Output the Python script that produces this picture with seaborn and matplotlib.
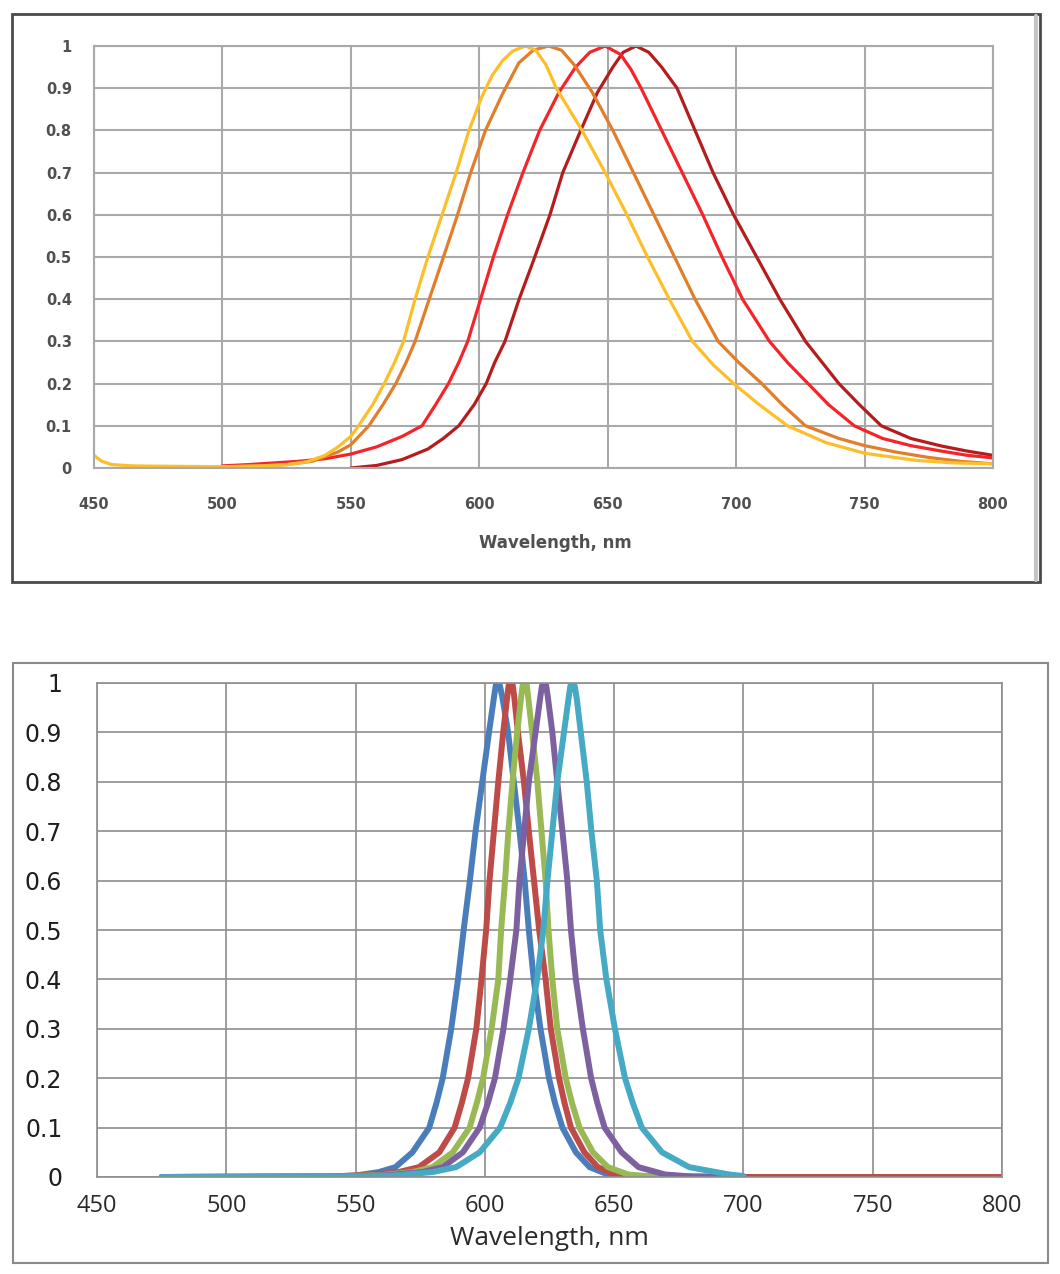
import numpy as np
import pandas as pd
import matplotlib
matplotlib.use("Agg")
import matplotlib.pyplot as plt
from matplotlib.patches import Rectangle
from matplotlib.lines import Line2D
import seaborn as sns


# 1 Data

# top chart: four broad measured spectra
yellow_nm = [450, 453, 457, 465, 480, 500, 515, 525, 533, 540, 545, 550, 553, 558.5, 563,
             567, 570.5, 575, 580, 585.5, 591, 596, 601, 605, 609, 613, 618, 622, 626,
             630, 640, 649, 657.5, 665.5, 674, 683, 691, 700, 709, 720, 735,
             750, 770, 785, 800]
yellow_val = [0.030, 0.016, 0.008, 0.005, 0.004, 0.003, 0.005, 0.008, 0.015, 0.030, 0.050,
              0.075, 0.100, 0.150, 0.200, 0.250, 0.300, 0.400, 0.500, 0.600, 0.700, 0.800,
              0.880, 0.930, 0.965, 0.988, 1.000, 0.990, 0.955, 0.900, 0.800, 0.700,
              0.600, 0.500, 0.400, 0.300, 0.245, 0.195, 0.150, 0.100, 0.060, 0.035, 0.018,
              0.012, 0.010]

orange_nm = [500, 515, 525, 535, 545, 550, 557, 562.5, 567.5, 571.5, 575, 580.5, 585.5, 591,
             596.5, 602.4, 609, 615.4, 621, 627, 632, 637, 644, 652, 660, 668, 676, 684,
             693, 701, 710, 718, 727, 740, 750, 762, 775, 787, 800]
orange_val = [0.003, 0.005, 0.008, 0.016, 0.038, 0.055, 0.100, 0.150, 0.200, 0.250, 0.300,
              0.400, 0.490, 0.590, 0.697, 0.800, 0.886, 0.960, 0.990, 1.000, 0.990, 0.955,
              0.890, 0.800, 0.700, 0.600, 0.500, 0.400, 0.300, 0.250, 0.200, 0.150, 0.100,
              0.070, 0.053, 0.038, 0.025, 0.016, 0.010]

red_nm = [500, 510, 520, 530, 540, 550, 560, 570, 577.7, 583, 588, 592, 595.5, 600.5, 605.5,
          611, 617, 623.5, 631, 637.5, 643, 649, 655, 659, 663, 671, 679, 687, 694.5, 702.5,
          713, 720, 728, 736, 746, 757, 768, 780, 790, 800]
red_val = [0.005, 0.008, 0.012, 0.016, 0.022, 0.033, 0.050, 0.075, 0.100, 0.150, 0.200, 0.250,
           0.300, 0.400, 0.500, 0.600, 0.700, 0.800, 0.890, 0.950, 0.985, 1.000, 0.980, 0.945,
           0.900, 0.800, 0.700, 0.600, 0.500, 0.400, 0.300, 0.250, 0.200, 0.150, 0.100, 0.070,
           0.053, 0.040, 0.030, 0.024]

darkred_nm = [550, 560, 570, 580, 586, 592, 598, 602.7, 606, 610, 615.5, 621, 627.5, 632.5,
              639.5, 646, 652, 656, 661, 666, 671, 677, 684, 691, 699, 708, 717, 727, 740,
              748, 756.5, 768, 780, 790, 800]
darkred_val = [0.000, 0.006, 0.020, 0.045, 0.070, 0.100, 0.150, 0.200, 0.250, 0.300, 0.400,
               0.490, 0.600, 0.700, 0.800, 0.890, 0.950, 0.985, 1.000, 0.985, 0.950, 0.900,
               0.800, 0.700, 0.600, 0.500, 0.400, 0.300, 0.200, 0.150, 0.100, 0.070, 0.052,
               0.040, 0.030]

# bottom chart: five narrow modelled peaks
blue_nm = [475, 540, 550, 559, 565.4, 572, 578.5, 581.3, 583.7, 587, 589.6, 591.8, 594.2,
           596.4, 599, 601.6, 603.5, 604.2, 605, 605.8, 606.8, 609, 611.2, 613.4, 615.4, 617,
           618.9, 621.5, 624.8, 627.1, 630, 635.2, 640.5, 647.6, 655, 700]
blue_val = [0, 0.001, 0.003, 0.01, 0.02, 0.05, 0.1, 0.15, 0.2, 0.3, 0.4, 0.5, 0.6, 0.7, 0.8,
            0.9, 0.97, 0.995, 1.0, 0.995, 0.97, 0.9, 0.8, 0.7, 0.6, 0.5, 0.4, 0.3, 0.2, 0.15,
            0.1, 0.05, 0.02, 0.005, 0.001, 0]

red2_nm = [475, 540, 555, 566.7, 574.5, 582.4, 588.3, 591.1, 593.5, 596.7, 598.7, 600.5, 601.8,
           603.5, 605.2, 607.1, 608.6, 609.2, 610, 610.8, 611.4, 612.8, 615.1, 617, 619, 621,
           623.5, 625.5, 628.7, 630.8, 633.3, 638.5, 643.7, 650.3, 660, 700, 800]
red2_val = [0, 0.001, 0.004, 0.01, 0.02, 0.05, 0.1, 0.15, 0.2, 0.3, 0.4, 0.5, 0.6, 0.7, 0.8,
            0.9, 0.97, 0.995, 1.0, 0.995, 0.97, 0.9, 0.8, 0.7, 0.6, 0.5, 0.4, 0.3, 0.2, 0.15,
            0.1, 0.05, 0.02, 0.005, 0.001, 0, 0]

green_nm = [475, 545, 560, 572, 579.8, 587.6, 594.1, 596.9, 599.3, 602.6, 605.2, 606.3, 607.8,
            609.1, 610.7, 612.5, 614, 614.6, 615.4, 616.2, 616.8, 618.3, 620.3, 621.9, 623.5,
            624.6, 626.1, 628, 631.3, 633.7, 636.6, 641.8, 647.6, 655.5, 665, 700]
green_val = [0, 0.001, 0.004, 0.01, 0.02, 0.05, 0.1, 0.15, 0.2, 0.3, 0.4, 0.5, 0.6, 0.7, 0.8,
             0.9, 0.97, 0.995, 1.0, 0.995, 0.97, 0.9, 0.8, 0.7, 0.6, 0.5, 0.4, 0.3, 0.2, 0.15,
             0.1, 0.05, 0.02, 0.005, 0.001, 0]

purple_nm = [475, 550, 563, 575.8, 583.7, 591.5, 598, 601.2, 603.9, 607.2, 609.8, 612.2, 613.4,
             615.2, 617, 619.6, 621.4, 622.1, 622.9, 623.7, 624.4, 626.1, 628, 630, 631.9,
             633.3, 635.2, 637.9, 641.1, 643.5, 646.3, 652.9, 659.4, 669.8, 680, 700]
purple_val = [0, 0.001, 0.004, 0.01, 0.02, 0.05, 0.1, 0.15, 0.2, 0.3, 0.4, 0.5, 0.6, 0.7, 0.8,
              0.9, 0.97, 0.995, 1.0, 0.995, 0.97, 0.9, 0.8, 0.7, 0.6, 0.5, 0.4, 0.3, 0.2, 0.15,
              0.1, 0.05, 0.02, 0.005, 0.001, 0]

cyan_nm = [475, 550, 565, 579.8, 588.9, 598, 605.9, 609.8, 613, 617, 620.2, 622.6, 624.2,
           626.1, 628, 630.6, 632.4, 633.1, 633.9, 634.7, 635.5, 637.1, 639.4, 641.2, 643.3,
           644.6, 647, 650.3, 654.2, 657.2, 660.7, 668.5, 679, 694.6, 700]
cyan_val = [0, 0.001, 0.003, 0.01, 0.02, 0.05, 0.1, 0.15, 0.2, 0.3, 0.4, 0.5, 0.6, 0.7, 0.8,
            0.9, 0.97, 0.995, 1.0, 0.995, 0.97, 0.9, 0.8, 0.7, 0.6, 0.5, 0.4, 0.3, 0.2, 0.15,
            0.1, 0.05, 0.02, 0.005, 0.002]

x_ticks = [450, 500, 550, 600, 650, 700, 750, 800]
y_ticks = [0, 0.1, 0.2, 0.3, 0.4, 0.5, 0.6, 0.7, 0.8, 0.9, 1]
y_tick_labels = ["0", "0.1", "0.2", "0.3", "0.4", "0.5", "0.6", "0.7", "0.8", "0.9", "1"]
x_label = "Wavelength, nm"


# 2 Build tables for seaborn

def long_table(series):
    parts = []
    for name, nm, val in series:
        parts.append(pd.DataFrame({"nm": nm, "value": val, "series": name}))
    return pd.concat(parts, ignore_index=True)


top_df = long_table([
    ("darkred", darkred_nm, darkred_val),
    ("red", red_nm, red_val),
    ("orange", orange_nm, orange_val),
    ("yellow", yellow_nm, yellow_val),
])
bottom_df = long_table([
    ("blue", blue_nm, blue_val),
    ("red", red2_nm, red2_val),
    ("green", green_nm, green_val),
    ("purple", purple_nm, purple_val),
    ("cyan", cyan_nm, cyan_val),
])

top_palette = {"darkred": "#B51C1E", "red": "#F4252A", "orange": "#E27D2A", "yellow": "#FCBF2A"}
bottom_palette = {"blue": "#4A7EBB", "red": "#BE4B48", "green": "#98B954",
                  "purple": "#7D60A0", "cyan": "#46AAC5"}


# 3 Figure

sns.set_style("white")
plt.rcParams["font.family"] = ["DejaVu Sans"]

W, H = 1060, 1274
fig = plt.figure(figsize=(W / 100, H / 100), dpi=100)


def px_axes(left, top, right, bottom):
    return fig.add_axes([left / W, 1 - bottom / H, (right - left) / W, (bottom - top) / H])


def style_axes(ax, grid_color, grid_lw):
    ax.set_xlim(450, 800)
    ax.set_ylim(0, 1)
    ax.set_xticks(x_ticks)
    ax.set_yticks(y_ticks)
    ax.set_yticklabels(y_tick_labels)
    ax.grid(True, color=grid_color, linewidth=grid_lw)
    ax.set_axisbelow(True)
    for sp in ax.spines.values():
        sp.set_visible(True)
        sp.set_color(grid_color)
        sp.set_linewidth(grid_lw)
    ax.set_ylabel("")


# top chart
ax1 = px_axes(94, 46, 993, 468)
sns.lineplot(data=top_df, x="nm", y="value", hue="series", palette=top_palette,
             estimator=None, linewidth=2.3, legend=False, ax=ax1)
for line in ax1.get_lines():
    line.set_solid_joinstyle("round")
style_axes(ax1, "#a9a9a9", 1.5)
ax1.tick_params(axis="x", length=6, width=1.5, color="#a9a9a9", pad=15,
                labelsize=10.5, labelcolor="#505050")
ax1.tick_params(axis="y", length=6, width=1.5, color="#a9a9a9", pad=10,
                labelsize=10.5, labelcolor="#505050")
for t in ax1.get_xticklabels() + ax1.get_yticklabels():
    t.set_fontweight("bold")
ax1.set_xlabel(x_label, fontsize=12, fontweight="bold", color="#505050")
ax1.xaxis.set_label_coords(0.513, -0.178)
ax1.xaxis.label.set_va("center")

# bottom chart
ax2 = px_axes(97, 683, 1002, 1177)
sns.lineplot(data=bottom_df, x="nm", y="value", hue="series", palette=bottom_palette,
             estimator=None, linewidth=4.3, legend=False, ax=ax2)
for line in ax2.get_lines():
    line.set_solid_joinstyle("round")
    line.set_solid_capstyle("round")
style_axes(ax2, "#8e8e8e", 1.2)
ax2.tick_params(axis="x", length=9, width=1.2, color="#8e8e8e", pad=3,
                labelsize=17, labelcolor="#2a2a2a")
ax2.tick_params(axis="y", length=9, width=1.2, color="#8e8e8e", pad=16,
                labelsize=17, labelcolor="#1e1e1e")
for t in ax2.get_xticklabels():
    t.set_family(["Open Sans", "DejaVu Sans"])
ax2.set_xlabel(x_label, fontsize=19, color="#2a2a2a", family=["Open Sans", "DejaVu Sans"])
ax2.xaxis.set_label_coords(0.5, -0.125)
ax2.xaxis.label.set_va("center")

# chart frames
fig.add_artist(Rectangle((12 / W, 1 - 582 / H), 1028 / W, 568 / H, transform=fig.transFigure,
                         fill=False, edgecolor="#4a4a4a", linewidth=2.0))
fig.add_artist(Line2D([1036 / W, 1036 / W], [1 - 580 / H, 1 - 16 / H], transform=fig.transFigure,
                      color="#c4c4c4", linewidth=3.0))
fig.add_artist(Rectangle((13 / W, 1 - 1263 / H), 1035 / W, 600 / H, transform=fig.transFigure,
                         fill=False, edgecolor="#8a8a8a", linewidth=1.5))

fig.savefig("out.png", dpi=100)
